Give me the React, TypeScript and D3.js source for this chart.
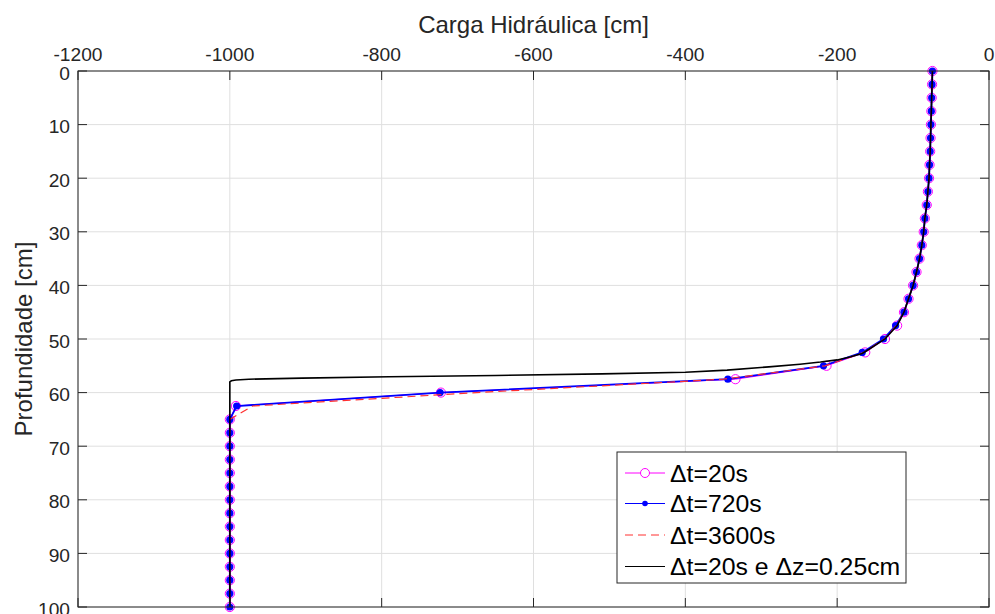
import React from "react";
import * as d3 from "d3";

const xTicks = [-1200, -1000, -800, -600, -400, -200, 0];
const yTicks = [0, 10, 20, 30, 40, 50, 60, 70, 80, 90, 100];

const depths = [0, 2.5, 5, 7.5, 10, 12.5, 15, 17.5, 20, 22.5, 25, 27.5, 30, 32.5, 35, 37.5, 40, 42.5, 45, 47.5, 50, 52.5, 55, 57.5, 60, 62.5, 65, 67.5, 70, 72.5, 75, 77.5, 80, 82.5, 85, 87.5, 90, 92.5, 95, 97.5, 100];

const head20 = [-74.5, -75, -75.5, -76, -76.5, -77, -77.5, -78.3, -79, -80.5, -82, -84.5, -86, -88.5, -91.5, -95.5, -100, -106, -112, -121, -137, -163, -214, -334, -722, -992, -1000, -1000, -1000, -1000, -1000, -1000, -1000, -1000, -1000, -1000, -1000, -1000, -1000, -1000, -1000];

const head720 = [-74.5, -75, -75.5, -76, -76.5, -77, -77.5, -78.3, -79, -80.5, -82, -84.5, -86, -88.5, -91.5, -95.5, -100, -106, -112, -123, -139, -167, -218, -344, -723, -991, -1000, -1000, -1000, -1000, -1000, -1000, -1000, -1000, -1000, -1000, -1000, -1000, -1000, -1000, -1000];

const head3600 = [-74.5, -75, -75.5, -76, -76.5, -77, -77.5, -78.3, -79, -80.5, -82, -84.5, -86, -88.5, -91.5, -95.5, -100, -106, -112, -122, -138, -165, -216, -350, -675, -970, -1000, -1000, -1000, -1000, -1000, -1000, -1000, -1000, -1000, -1000, -1000, -1000, -1000, -1000, -1000];

const depthFine = [0, 2.5, 5, 7.5, 10, 12.5, 15, 17.5, 20, 22.5, 25, 27.5, 30, 32.5, 35, 37.5, 40, 42.5, 45, 47.5, 50, 51, 52, 52.7, 53.3, 53.9, 54.3, 54.7, 55.2, 55.8, 56.2, 56.5, 56.8, 57.05, 57.3, 57.5, 57.65, 57.8, 58, 100];
const headFine = [-74.5, -75, -75.5, -76, -76.5, -77, -77.5, -78.3, -79, -80.5, -82, -84.5, -86, -88.5, -91.5, -95.5, -100, -106, -112, -121, -137, -148, -159, -167, -182, -200, -222, -249, -290, -345, -400, -510, -650, -790, -905, -975, -992, -998, -1000, -1000];

const legendLabels = ["\u0394t=20s", "\u0394t=720s", "\u0394t=3600s", "\u0394t=20s e \u0394z=0.25cm"];

const W = 995, H = 614;
const L = 78, R = 989, T = 71, B = 607;
const AX = "#262626";
const FONT = "'Liberation Sans', Arial, Helvetica, sans-serif";

export default function App() {
  const x = d3.scaleLinear().domain([-1200, 0]).range([L, R]);
  const y = d3.scaleLinear().domain([0, 100]).range([T, B]);
  const line = d3.line<[number, number]>().x((d) => x(d[0])).y((d) => y(d[1]));

  const s20 = depths.map((dp, i) => [head20[i], dp] as [number, number]);
  const s720 = depths.map((dp, i) => [head720[i], dp] as [number, number]);
  const s3600 = depths.map((dp, i) => [head3600[i], dp] as [number, number]);
  const sFine = depthFine.map((dp, i) => [headFine[i], dp] as [number, number]);

  const tickLen = 9;
  const legX = 617, legY = 452, legW = 289, legH = 131;
  const rowY = [473, 503.5, 535, 566.5];

  return (
    <svg width={W} height={H} style={{ position: "fixed", left: 0, top: 0, background: "#fff" }} fontFamily={FONT}>
      <rect x={0} y={0} width={W} height={H} fill="#fff" />
      {xTicks.map((t) => (
        <line key={"gx" + t} x1={x(t)} x2={x(t)} y1={T} y2={B} stroke="#dfdfdf" strokeWidth={1} />
      ))}
      {yTicks.map((t) => (
        <line key={"gy" + t} x1={L} x2={R} y1={y(t)} y2={y(t)} stroke="#dfdfdf" strokeWidth={1} />
      ))}
      <path d={line(s20) || ""} fill="none" stroke="#ff00ff" strokeWidth={1} />
      {s20.map((d, i) => (
        <circle key={"c" + i} cx={x(d[0])} cy={y(d[1])} r={4.6} fill="none" stroke="#ff00ff" strokeWidth={1} />
      ))}
      <path d={line(s720) || ""} fill="none" stroke="#0000ff" strokeWidth={1.8} />
      {s720.map((d, i) => (
        <circle key={"b" + i} cx={x(d[0])} cy={y(d[1])} r={3.6} fill="#0000ff" />
      ))}
      <path d={line(s3600) || ""} fill="none" stroke="#ff3030" strokeWidth={1.2} strokeDasharray="8 5" />
      <path d={line(sFine) || ""} fill="none" stroke="#000" strokeWidth={1.6} />
      <rect x={L} y={T} width={R - L} height={B - T} fill="none" stroke={AX} strokeWidth={1} />
      {xTicks.map((t) => (
        <g key={"tx" + t}>
          <line x1={x(t)} x2={x(t)} y1={T} y2={T + tickLen} stroke={AX} />
          <line x1={x(t)} x2={x(t)} y1={B} y2={B - tickLen} stroke={AX} />
          <text x={x(t)} y={T - 10} textAnchor="middle" fontSize={19.2} fill={AX}>{t}</text>
        </g>
      ))}
      {yTicks.map((t) => (
        <g key={"ty" + t}>
          <line x1={L} x2={L + tickLen} y1={y(t)} y2={y(t)} stroke={AX} />
          <line x1={R} x2={R - tickLen} y1={y(t)} y2={y(t)} stroke={AX} />
          <text x={L - 8} y={y(t) + 2} textAnchor="end" dominantBaseline="central" fontSize={19.2} fill={AX}>{t}</text>
        </g>
      ))}
      <text x={(L + R) / 2} y={33} textAnchor="middle" fontSize={24} fill={AX}>Carga Hidráulica [cm]</text>
      <text transform={`translate(32, ${(T + B) / 2}) rotate(-90)`} textAnchor="middle" fontSize={24} fill={AX}>Profundidade [cm]</text>
      <rect x={legX} y={legY} width={legW} height={legH} fill="#fff" stroke={AX} strokeWidth={1} />
      <line x1={625} x2={665} y1={rowY[0]} y2={rowY[0]} stroke="#ff00ff" strokeWidth={1} />
      <circle cx={645} cy={rowY[0]} r={4.5} fill="#fff" stroke="#ff00ff" strokeWidth={1} />
      <line x1={625} x2={665} y1={rowY[1]} y2={rowY[1]} stroke="#0000ff" strokeWidth={1.2} />
      <circle cx={645} cy={rowY[1]} r={2.8} fill="#0000ff" />
      <line x1={625} x2={665} y1={rowY[2]} y2={rowY[2]} stroke="#ff3030" strokeWidth={1} strokeDasharray="8 5" />
      <line x1={625} x2={665} y1={rowY[3]} y2={rowY[3]} stroke="#000" strokeWidth={1.2} />
      {legendLabels.map((lab, i) => (
        <text key={"l" + i} x={670} y={rowY[i]} dominantBaseline="central" fontSize={24.8} fill="#000">{lab}</text>
      ))}
    </svg>
  );
}
